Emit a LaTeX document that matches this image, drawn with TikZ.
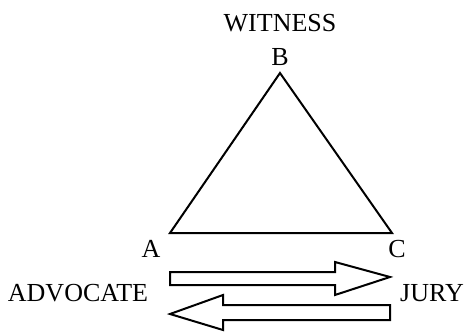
\documentclass[tikz,border=0pt]{standalone}
\usepackage{fontspec}
\setmainfont{Liberation Serif}
\begin{document}
\begin{tikzpicture}[x=1pt,y=-1pt,
  lbl/.style={inner sep=0pt,font=\fontsize{26}{26}\selectfont},
  edge/.style={line width=2pt,line join=miter}]
\useasboundingbox (0,0) rectangle (468,332);
\coordinate (B) at (280,73);
\coordinate (A) at (170,233);
\coordinate (C) at (392,233);
\draw[edge] (A) -- (B) -- (C) -- cycle;
\node[lbl] (witness) at (280,23) {WITNESS};
\node[lbl] (lb) at (280,57) {B};
\node[lbl] (la) at (151,249) {A};
\node[lbl] (lc) at (397,249) {C};
\node[lbl] (adv) at (78,293) {ADVOCATE};
\node[lbl] (jury) at (432,293) {JURY};
\draw[edge] (170,272) -- (335,272) -- (335,262) -- (390,277) -- (335,295) -- (335,285) -- (170,285) -- cycle;
\draw[edge] (390,305) -- (223,305) -- (223,295) -- (170,314) -- (223,330) -- (223,320) -- (390,320) -- cycle;
\end{tikzpicture}
\end{document}
